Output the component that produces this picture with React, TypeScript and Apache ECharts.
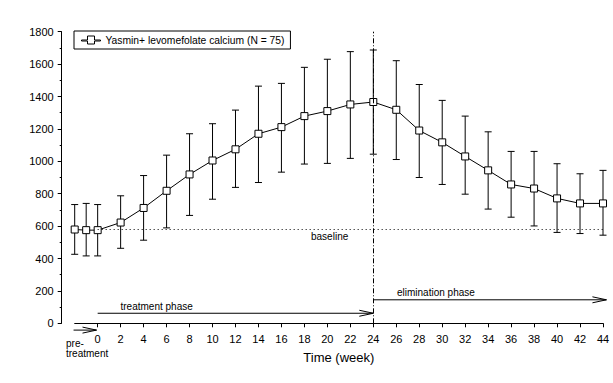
import React, { useEffect, useRef } from "react";
import * as echarts from "echarts";

const weeks = [-2, -1, 0, 2, 4, 6, 8, 10, 12, 14, 16, 18, 20, 22, 24, 26, 28, 30, 32, 34, 36, 38, 40, 42, 44];
const meanValues = [579, 575, 575, 622, 712, 818, 919, 1005, 1074, 1170, 1211, 1279, 1310, 1351, 1366, 1318, 1190, 1117, 1030, 944, 857, 832, 771, 740, 740];
const upperValues = [733, 740, 733, 787, 912, 1038, 1170, 1232, 1316, 1464, 1481, 1580, 1630, 1677, 1687, 1621, 1474, 1376, 1279, 1182, 1061, 1061, 985, 923, 944];
const lowerValues = [426, 416, 416, 463, 513, 589, 666, 766, 839, 869, 933, 983, 987, 1018, 1044, 1011, 900, 857, 797, 705, 655, 601, 561, 554, 544];
const xTickLabels = [0, 2, 4, 6, 8, 10, 12, 14, 16, 18, 20, 22, 24, 26, 28, 30, 32, 34, 36, 38, 40, 42, 44];
const baselineValue = 580;
const phaseBoundary = 24;
// phase arrows: [fromWeek, toWeek, level]
const phaseArrows = [
  [0, 24, 62],
  [24, 44.3, 145],
  [-2.1, -0.1, -42],
];
const seriesName = "Yasmin+ levomefolate calcium (N = 75)";

const FONT = "Liberation Sans, Arial, sans-serif";

export default function App() {
  const ref = useRef<HTMLDivElement>(null);
  useEffect(() => {
    document.body.style.margin = "0";
    const chart = echarts.init(ref.current!, null, { renderer: "svg" });
    const meanData = weeks.map((w, i) => [w, meanValues[i]]);
    const errData = weeks.map((w, i) => [w, lowerValues[i], upperValues[i]]);
    chart.setOption({
      animation: false,
      backgroundColor: "#fff",
      textStyle: { fontFamily: FONT },
      grid: { left: 74.7, right: 10, top: 31.7, bottom: 59.7 },
      legend: {
        left: 74,
        top: 31,
        orient: "vertical",
        borderColor: "#000",
        borderWidth: 1,
        borderRadius: 0,
        padding: [4, 6, 4, 7],
        itemWidth: 19,
        itemHeight: 8,
        itemGap: 0,
        textStyle: { fontSize: 10.3, color: "#000", fontFamily: FONT },
        data: [{ name: seriesName, icon: "path://M0,4L6,4L6,0L13,0L13,4L19,4L19,5L13,5L13,8L6,8L6,5L0,5Z" }],
        itemStyle: { color: "#fff", borderColor: "#000", borderWidth: 1 },
      },
      xAxis: {
        type: "value",
        min: -2,
        max: 44,
        interval: 2,
        name: "Time (week)",
        nameLocation: "middle",
        nameGap: 28,
        nameTextStyle: { fontSize: 13, color: "#000", fontFamily: FONT },
        axisLine: { onZero: false, lineStyle: { color: "#000", width: 1 } },
        axisTick: { length: 4, lineStyle: { color: "#000" }, customValues: xTickLabels },
        axisLabel: { fontSize: 11, color: "#000", margin: 10, customValues: xTickLabels },
        splitLine: { show: false },
      },
      yAxis: {
        type: "value",
        min: 0,
        max: 1800,
        interval: 200,
        offset: 13,
        axisLine: { show: true, onZero: false, lineStyle: { color: "#000", width: 1 } },
        axisTick: { show: true, length: 4, lineStyle: { color: "#000" } },
        minorTick: { show: true, splitNumber: 2, length: 2, lineStyle: { color: "#000" } },
        axisLabel: { fontSize: 11, color: "#000", margin: 8, formatter: (v: number) => String(v) },
        splitLine: { show: false },
      },
      series: [
        {
          type: "custom",
          name: "err",
          z: 1,
          clip: false,
          data: errData,
          renderItem: (params: any, api: any) => {
            const x = api.value(0);
            const lo = api.coord([x, api.value(1)]);
            const hi = api.coord([x, api.value(2)]);
            const cw = 3.5;
            const st = { stroke: "#000", lineWidth: 1 };
            return {
              type: "group",
              children: [
                { type: "line", shape: { x1: lo[0], y1: lo[1], x2: hi[0], y2: hi[1] }, style: st },
                { type: "line", shape: { x1: lo[0] - cw, y1: lo[1], x2: lo[0] + cw, y2: lo[1] }, style: st },
                { type: "line", shape: { x1: hi[0] - cw, y1: hi[1], x2: hi[0] + cw, y2: hi[1] }, style: st },
              ],
            };
          },
        },
        {
          type: "custom",
          name: "arrows",
          z: 1,
          clip: false,
          data: phaseArrows,
          renderItem: (params: any, api: any) => {
            const y = api.value(2);
            const p0 = api.coord([api.value(0), y]);
            const p1 = api.coord([api.value(1), y]);
            const st = { stroke: "#000", lineWidth: 1, fill: "none" };
            return {
              type: "group",
              children: [
                { type: "line", shape: { x1: p0[0], y1: p0[1], x2: p1[0], y2: p1[1] }, style: st },
                {
                  type: "polyline",
                  shape: { points: [[p1[0] - 14, p1[1] - 3], [p1[0], p1[1]], [p1[0] - 14, p1[1] + 3]] },
                  style: st,
                },
              ],
            };
          },
        },
        {
          type: "line",
          name: seriesName,
          z: 3,
          data: meanData,
          symbol: "rect",
          symbolSize: 7,
          showSymbol: true,
          lineStyle: { color: "#000", width: 1 },
          itemStyle: { color: "#fff", borderColor: "#000", borderWidth: 1 },
          markLine: {
            silent: true,
            symbol: "none",
            label: { show: false },
            data: [
              [
                { coord: [0, baselineValue], lineStyle: { type: [1, 3], color: "#000", width: 1 } },
                { coord: [44, baselineValue] },
              ],
              [
                { coord: [phaseBoundary, 0], lineStyle: { type: [5, 2, 1, 2], color: "#000", width: 1 } },
                { coord: [phaseBoundary, 1800] },
              ],
            ],
          },
        },
      ],
      graphic: [
        { type: "text", left: 120.5, top: 301, style: { text: "treatment phase", fontSize: 10, fill: "#000", fontFamily: FONT } },
        { type: "text", left: 397, top: 287.5, style: { text: "elimination phase", fontSize: 10, fill: "#000", fontFamily: FONT } },
        { type: "text", left: 311, top: 231, style: { text: "baseline", fontSize: 10, fill: "#000", fontFamily: FONT } },
        { type: "text", left: 66, top: 338, style: { text: "pre-\ntreatment", fontSize: 10, lineHeight: 10, fill: "#000", fontFamily: FONT } },
      ],
    });
    return () => chart.dispose();
  }, []);
  return <div ref={ref} style={{ width: 613, height: 383 }} />;
}
